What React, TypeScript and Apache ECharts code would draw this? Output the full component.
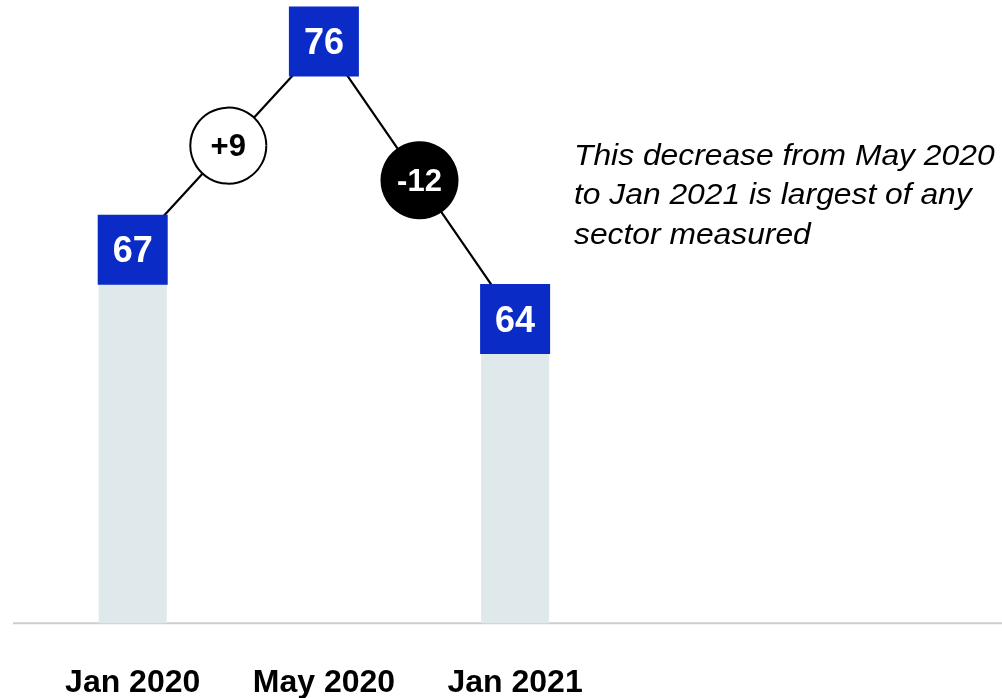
import React, { useEffect, useRef } from "react";
import * as echarts from "echarts";

const categories = ["Jan 2020", "May 2020", "Jan 2021"];
const scores = [67, 76, 64];
const hasBar = [true, false, true];
const changes = [9, -12];
const changeLabels = ["+9", "-12"];
const note = "This decrease from May 2020\nto Jan 2021 is largest of any\nsector measured";

const FONT = '"Liberation Sans", Arial, Helvetica, sans-serif';
const Y_MIN = 50.85;
const Y_MAX = 77;

export default function App() {
  const ref = useRef<HTMLDivElement>(null);
  useEffect(() => {
    if (!ref.current) return;
    const chart = echarts.init(ref.current, null, { renderer: "svg" });
    const barData = scores.map((v, i) => (hasBar[i] ? v : "-"));
    const changeData = changes.map((c, i) => [i, (scores[i] + scores[i + 1]) / 2, c]);
    chart.setOption({
      animation: false,
      grid: { left: 37.1, right: 391.3, top: 18.4, bottom: 74.7, containLabel: false },
      xAxis: {
        type: "category",
        data: categories,
        axisLine: { show: false },
        axisTick: { show: false },
        axisLabel: {
          margin: 42,
          color: "#000",
          fontFamily: FONT,
          fontWeight: "bold",
          fontSize: 32,
          lineHeight: 32,
        },
      },
      yAxis: {
        type: "value",
        min: Y_MIN,
        max: Y_MAX,
        show: false,
        splitLine: { show: false },
      },
      series: [
        {
          type: "bar",
          data: barData,
          barWidth: 68,
          itemStyle: { color: "#dfe8ea" },
          silent: true,
          z: 1,
        },
        {
          type: "line",
          data: scores,
          symbol: "rect",
          symbolSize: [70, 70],
          lineStyle: { color: "#000", width: 2.2 },
          itemStyle: { color: "#0a2bc6", borderWidth: 0 },
          label: {
            show: true,
            position: "inside",
            color: "#fff",
            fontFamily: FONT,
            fontWeight: "bold",
            fontSize: 36,
          },
          z: 3,
        },
        {
          type: "custom",
          data: changeData,
          encode: { x: 0, y: 1 },
          z: 5,
          renderItem: (params: any, api: any) => {
            const i = api.value(0);
            const a = api.coord([i, scores[i]]);
            const b = api.coord([i + 1, scores[i + 1]]);
            const cx = (a[0] + b[0]) / 2;
            const cy = (a[1] + b[1]) / 2;
            const c = changes[params.dataIndex];
            const neg = c < 0;
            return {
              type: "group",
              children: [
                {
                  type: "circle",
                  shape: { cx, cy, r: 38 },
                  style: { fill: neg ? "#000" : "#fff", stroke: "#000", lineWidth: 2 },
                },
                {
                  type: "text",
                  style: {
                    x: cx,
                    y: cy,
                    text: changeLabels[params.dataIndex],
                    fill: neg ? "#fff" : "#000",
                    fontFamily: FONT,
                    fontWeight: "bold",
                    fontSize: 31,
                    align: "center",
                    verticalAlign: "middle",
                  },
                },
              ],
            };
          },
        },
      ],
    });
    const y0 = chart.convertToPixel({ yAxisIndex: 0 }, Y_MIN) as number;
    chart.setOption({
      graphic: [
        {
          type: "line",
          shape: { x1: 13, y1: y0, x2: 1002, y2: y0 },
          style: { stroke: "#c9d0d0", lineWidth: 2 },
          z: 0,
        },
        {
          type: "text",
          x: 574,
          y: 135,
          scaleX: 1.06,
          style: {
            text: note,
            fontFamily: FONT,
            fontStyle: "italic",
            fontSize: 30,
            lineHeight: 39.5,
            fill: "#000",
            align: "left",
            verticalAlign: "top",
          },
        },
      ],
    });
    return () => chart.dispose();
  }, []);
  return (
    <div
      ref={ref}
      style={{ position: "fixed", left: 0, top: 0, width: 1002, height: 698 }}
    />
  );
}
